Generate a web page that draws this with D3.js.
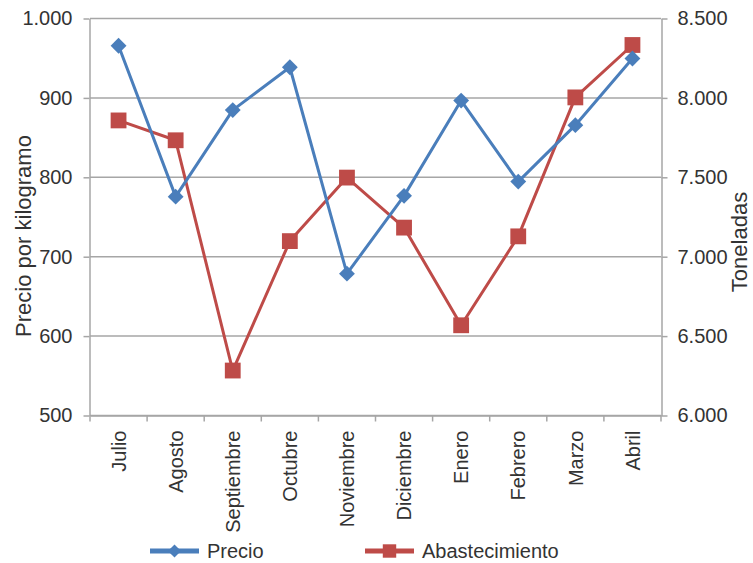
<!DOCTYPE html>
<html>
<head>
<meta charset="utf-8">
<script src="https://cdn.jsdelivr.net/npm/d3@7"></script>
<style>
  body { margin: 0; background: #fff; }
  svg { display: block; font-family: "Liberation Sans", Arial, sans-serif; }
</style>
</head>
<body>
<div class="graphContainer"></div>
<script>
var width = 753;
var height = 563;

var meses = ["Julio", "Agosto", "Septiembre", "Octubre", "Noviembre",
  "Diciembre", "Enero", "Febrero", "Marzo", "Abril"];
var precio = [965, 775, 884, 938, 678, 776, 896, 794, 865, 949];
var abastecimiento = [7855, 7730, 6280, 7095, 7495, 7180, 6565, 7125, 8000, 8330];
var ticksPrecio = [500, 600, 700, 800, 900, 1000];
var ticksToneladas = [6000, 6500, 7000, 7500, 8000, 8500];

var azul = "#4a7ebb";
var rojo = "#be4b48";
var gris = "#a6a6a6";
var texto = "#333";

var plotLeft = 90, plotRight = 661, plotTop = 18, plotBottom = 415;

var locale = d3.formatLocale({ decimal: ",", thousands: ".", grouping: [3], currency: ["$", ""] });
var fmt = locale.format(",");

var svg = d3.select(".graphContainer")
  .append("svg")
  .attr("width", width)
  .attr("height", height);

var x = d3.scaleBand().domain(meses).range([plotLeft, plotRight]);
var yL = d3.scaleLinear().domain([500, 1000]).range([plotBottom, plotTop]);
var yR = d3.scaleLinear().domain([6000, 8500]).range([plotBottom, plotTop]);

// gridlines
svg.append("g")
  .selectAll("line")
  .data(ticksPrecio)
  .enter()
  .append("line")
  .attr("x1", plotLeft)
  .attr("x2", plotRight)
  .attr("y1", function (d) { return yL(d) + 0.5; })
  .attr("y2", function (d) { return yL(d) + 0.5; })
  .attr("stroke", gris)
  .attr("stroke-width", 1.5);

// left axis
var yAxisL = d3.axisLeft(yL).tickValues(ticksPrecio).tickFormat(fmt)
  .tickSize(6).tickSizeOuter(0).tickPadding(11);
var gL = svg.append("g")
  .attr("transform", "translate(" + (plotLeft - 0.5) + ",0.5)")
  .call(yAxisL);

// right axis
var yAxisR = d3.axisRight(yR).tickValues(ticksToneladas).tickFormat(fmt)
  .tickSize(6).tickSizeOuter(0).tickPadding(10);
var gR = svg.append("g")
  .attr("transform", "translate(" + (plotRight + 0.5) + ",0.5)")
  .call(yAxisR);

// bottom axis (labels at band centres)
var xAxis = d3.axisBottom(x).tickSize(0).tickSizeOuter(0);
var gX = svg.append("g")
  .attr("transform", "translate(0," + (plotBottom + 0.5) + ")")
  .call(xAxis);
gX.selectAll("text")
  .attr("transform", "rotate(-90)")
  .attr("x", -15)
  .attr("y", 0)
  .attr("dy", "0.36em")
  .style("text-anchor", "end");

// tick marks at band edges
var bordes = meses.map(function (m) { return x(m); }).concat([x.range()[1]]);
gX.selectAll(".borde")
  .data(bordes)
  .enter()
  .append("line")
  .attr("class", "borde")
  .attr("x1", function (d) { return d; })
  .attr("x2", function (d) { return d; })
  .attr("y1", 0)
  .attr("y2", 6);

[gL, gR, gX].forEach(function (g) {
  g.select(".domain").attr("stroke", gris).attr("stroke-width", 1.5);
  g.selectAll("line").attr("stroke", gris).attr("stroke-width", 1.5);
  g.selectAll("text")
    .attr("fill", texto)
    .style("font-size", "20px")
    .style("font-family", "'Liberation Sans', Arial, sans-serif");
});

// axis titles
svg.append("text")
  .attr("transform", "translate(31,236) rotate(-90)")
  .attr("text-anchor", "middle")
  .attr("fill", texto)
  .style("font-size", "22px")
  .text("Precio por kilogramo");

svg.append("text")
  .attr("transform", "translate(747,242) rotate(-90)")
  .attr("text-anchor", "middle")
  .attr("fill", texto)
  .style("font-size", "22px")
  .text("Toneladas");

var cx = function (d, i) { return x(meses[i]) + x.bandwidth() / 2; };
var diamond = d3.symbol().type(d3.symbolDiamond2).size(160);
var square = d3.symbol().type(d3.symbolSquare).size(250);

// Abastecimiento series
var lineaR = d3.line().x(cx).y(function (d) { return yR(d); });
svg.append("path")
  .datum(abastecimiento)
  .attr("d", lineaR)
  .attr("fill", "none")
  .attr("stroke", rojo)
  .attr("stroke-width", 3)
  .attr("stroke-linejoin", "round");
svg.append("g")
  .selectAll("path")
  .data(abastecimiento)
  .enter()
  .append("path")
  .attr("d", square)
  .attr("transform", function (d, i) { return "translate(" + cx(d, i) + "," + yR(d) + ")"; })
  .attr("fill", rojo);

// Precio series
var lineaL = d3.line().x(cx).y(function (d) { return yL(d); });
svg.append("path")
  .datum(precio)
  .attr("d", lineaL)
  .attr("fill", "none")
  .attr("stroke", azul)
  .attr("stroke-width", 3)
  .attr("stroke-linejoin", "round");
svg.append("g")
  .selectAll("path")
  .data(precio)
  .enter()
  .append("path")
  .attr("d", diamond)
  .attr("transform", function (d, i) { return "translate(" + cx(d, i) + "," + yL(d) + ")"; })
  .attr("fill", azul);

// legend
var leyenda = [
  { nombre: "Precio", color: azul, marca: d3.symbol().type(d3.symbolDiamond2).size(110), x: 150 },
  { nombre: "Abastecimiento", color: rojo, marca: d3.symbol().type(d3.symbolSquare).size(180), x: 365 }
];
var lg = svg.append("g").attr("id", "legend")
  .selectAll("g")
  .data(leyenda)
  .enter()
  .append("g")
  .attr("transform", function (d) { return "translate(" + d.x + ",551)"; });
lg.append("line")
  .attr("x1", 0).attr("x2", 49)
  .attr("stroke", function (d) { return d.color; })
  .attr("stroke-width", 5);
lg.append("path")
  .attr("d", function (d) { return d.marca(); })
  .attr("transform", "translate(24.5,0)")
  .attr("fill", function (d) { return d.color; });
lg.append("text")
  .attr("x", 57)
  .attr("dy", "0.35em")
  .attr("fill", texto)
  .style("font-size", "20px")
  .text(function (d) { return d.nombre; });
</script>
</body>
</html>
